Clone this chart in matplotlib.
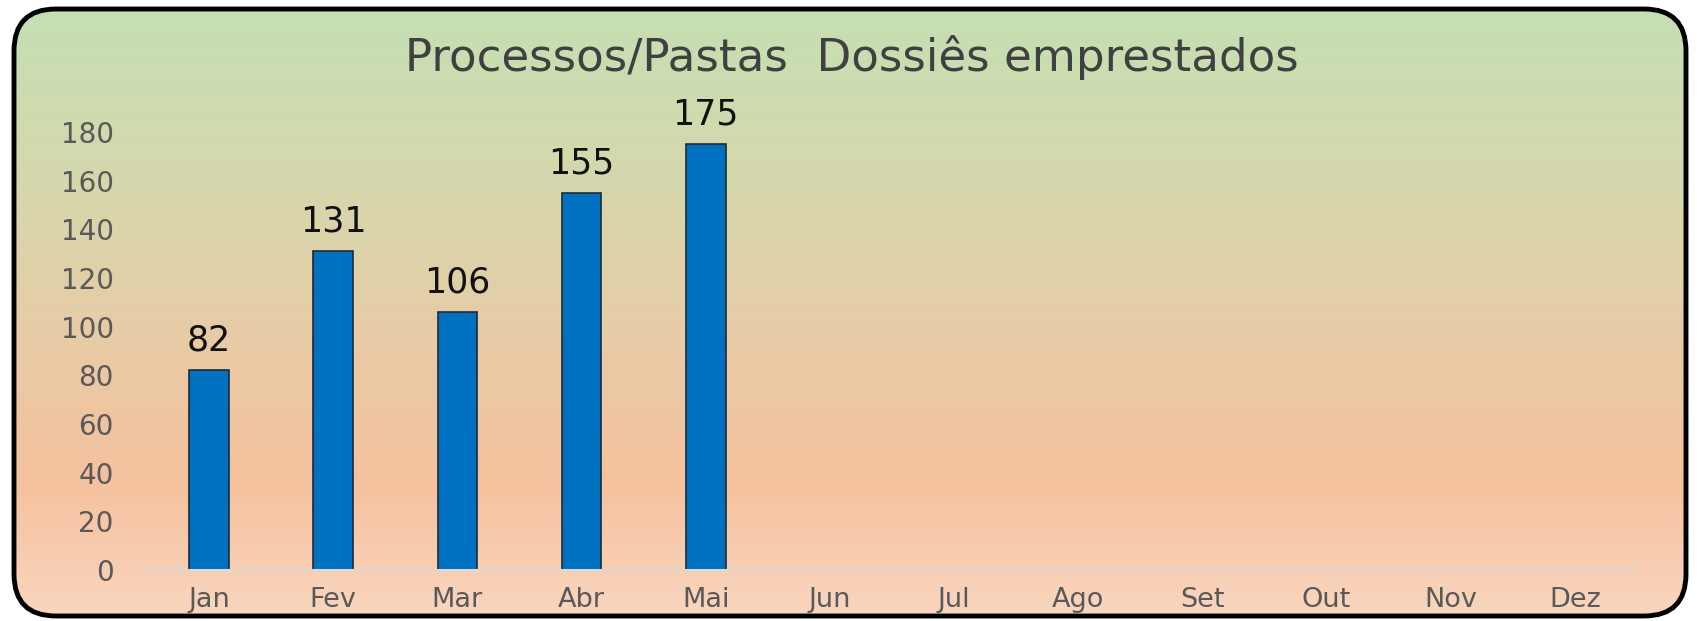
import numpy as np
import matplotlib
matplotlib.use("Agg")
import matplotlib.pyplot as plt
from matplotlib.patches import FancyBboxPatch
from matplotlib.colors import LinearSegmentedColormap

months = ["Jan", "Fev", "Mar", "Abr", "Mai", "Jun", "Jul", "Ago", "Set", "Out", "Nov", "Dez"]
values = [82, 131, 106, 155, 175]
yticks = [0, 20, 40, 60, 80, 100, 120, 140, 160, 180]
title = "Processos/Pastas  Dossiês emprestados"

plt.rcParams['font.family'] = ['DejaVu Sans']

W, H = 1697, 621
fig = plt.figure(figsize=(W / 100, H / 100), dpi=100)
fig.patch.set_facecolor("white")

# background gradient inside rounded frame
bg = fig.add_axes([0, 0, 1, 1], zorder=0)
bg.set_xlim(0, W)
bg.set_ylim(H, 0)
bg.axis("off")
cmap = LinearSegmentedColormap.from_list(
    "g", [(0.0, "#c5dfb3"), (0.25, "#d3d9ad"), (0.55, "#e8cba6"),
          (0.78, "#f5c19e"), (1.0, "#f9d6bf")])
grad = np.linspace(0, 1, 256).reshape(-1, 1)
x0, y0, x1, y1 = 14, 9, 1686, 616
im = bg.imshow(grad, cmap=cmap, aspect="auto", extent=[x0, x1, y1, y0], zorder=0)
frame = FancyBboxPatch((x0, y0), x1 - x0, y1 - y0,
                       boxstyle="round,pad=0,rounding_size=42",
                       facecolor="none", edgecolor="black", linewidth=3.5, zorder=2)
bg.add_patch(frame)
im.set_clip_path(frame)

ax = fig.add_axes([147 / W, 1 - 570 / H, (1637 - 147) / W, (570 - 132) / H], zorder=1)
ax.patch.set_alpha(0)
x = np.arange(len(months))
xv = np.arange(len(values))
ax.bar(xv, values, width=0.32, color="#0070c0", edgecolor="#1f2a33", linewidth=1.2)
ax.set_xlim(-0.5, len(months) - 0.5)
ax.set_ylim(0, 180)
ax.set_xticks(x)
ax.set_xticklabels(months)
ax.set_yticks(yticks)
for s in ["top", "right", "left"]:
    ax.spines[s].set_visible(False)
ax.spines["bottom"].set_color("#d9d9d9")
ax.spines["bottom"].set_linewidth(1.5)
ax.tick_params(axis="both", length=0, colors="#595959")
ax.tick_params(axis="x", pad=12, labelsize=19.5)
ax.tick_params(axis="y", pad=24, labelsize=20)

for xi, v in zip(xv, values):
    ax.annotate(str(v), (xi, v), xytext=(0, 9), textcoords="offset points",
                ha="center", va="bottom", fontsize=25, color="#111111")

fig.text(852 / W, 1 - 57 / H, title, ha="center", va="center",
         fontsize=32.5, color="#404040")

fig.savefig("out.png", dpi=100)
